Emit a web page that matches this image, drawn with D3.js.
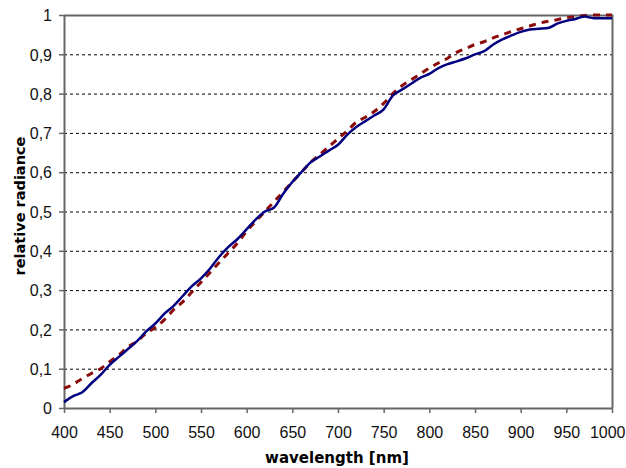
<!DOCTYPE html>
<html><head><meta charset="utf-8">
<script src="https://cdn.jsdelivr.net/npm/d3@7"></script>
<style>body{margin:0;background:#fff}svg{display:block}</style>
</head><body>
<svg id="c" width="626" height="468"></svg>
<script>
const wavelengths = [400,410,420,430,440,450,460,470,480,490,500,510,520,530,540,550,560,570,580,590,600,610,620,630,640,650,660,670,680,690,700,710,720,730,740,750,760,770,780,790,800,810,820,830,840,850,860,870,880,890,900,910,920,930,940,950,960,970,980,990,1000];
const measured = [0.015,0.03,0.04,0.063,0.084,0.11,0.13,0.15,0.17,0.195,0.215,0.24,0.26,0.285,0.31,0.33,0.355,0.385,0.41,0.43,0.455,0.48,0.5,0.51,0.545,0.575,0.6,0.625,0.64,0.655,0.67,0.695,0.715,0.73,0.745,0.76,0.795,0.81,0.825,0.84,0.85,0.865,0.875,0.882,0.89,0.9,0.908,0.925,0.938,0.948,0.957,0.963,0.965,0.967,0.978,0.985,0.99,0.996,0.992,0.992,0.992];
const reference = [0.05,0.06,0.075,0.088,0.1,0.118,0.135,0.155,0.17,0.19,0.205,0.225,0.25,0.27,0.295,0.32,0.345,0.37,0.395,0.42,0.45,0.475,0.5,0.525,0.55,0.575,0.6,0.625,0.645,0.665,0.685,0.705,0.727,0.74,0.755,0.775,0.8,0.82,0.835,0.85,0.865,0.878,0.89,0.905,0.915,0.925,0.932,0.942,0.95,0.958,0.965,0.972,0.979,0.984,0.988,0.993,0.996,0.999,1.0,1.0,1.0];
const xTicks = [400,450,500,550,600,650,700,750,800,850,900,950,1000];
const yTicks = [0,0.1,0.2,0.3,0.4,0.5,0.6,0.7,0.8,0.9,1];
const xTitle = "wavelength [nm]";
const yTitle = "relative radiance";

const svg = d3.select("#c");
const L=64,R=612,T=15,B=408;
const x = d3.scaleLinear().domain([400,1000]).range([L,R]);
const y = d3.scaleLinear().domain([0,1]).range([B,T]);
const font = "'Liberation Sans', Arial, sans-serif";
const bold = "'DejaVu Sans', sans-serif";

// gridlines
svg.append("g").selectAll("line").data(yTicks.filter(v=>v>0&&v<1)).join("line")
  .attr("x1",L).attr("x2",R).attr("y1",d=>y(d)+0.5).attr("y2",d=>y(d)+0.5)
  .attr("stroke","#000").attr("stroke-width",1).attr("stroke-dasharray","3,3");

// top & right border
svg.append("path").attr("d",`M${L},${T+0.5}H${R+0.5}V${B}`).attr("fill","none").attr("stroke","#666").attr("stroke-width",2);

// axes
const xa = svg.append("g").attr("transform",`translate(0,${B})`)
  .call(d3.axisBottom(x).tickValues(xTicks).tickSize(5).tickSizeOuter(0).tickFormat(d3.format("d")));
xa.selectAll(".tick text").attr("y",30).attr("dy",0);
xa.selectAll(".tick").filter(d=>d===1000).select("text").attr("text-anchor","end").attr("x",626-R-1);
const ya = svg.append("g").attr("transform",`translate(${L},0)`)
  .call(d3.axisLeft(y).tickValues(yTicks).tickSize(5).tickSizeOuter(0).tickPadding(7).tickFormat(d=>d===0?"0":d===1?"1":String(d3.format(".1f")(d)).replace(".",",")));
ya.selectAll(".tick text").attr("dy","0.36em");
[xa,ya].forEach(a=>{
  a.select(".domain").attr("stroke","#666").attr("stroke-width",2);
  a.selectAll(".tick line").attr("stroke","#666").attr("stroke-width",1.5);
  a.selectAll("text").attr("font-family",font).attr("font-size",16).attr("fill","#111");
});

const line = d3.line().x((d,i)=>x(wavelengths[i])).y(d=>y(d)).curve(d3.curveMonotoneX);

svg.append("path").datum(reference).attr("d",line).attr("fill","none")
  .attr("stroke","#8b0a0a").attr("stroke-width",3).attr("stroke-dasharray","7,6");
svg.append("path").datum(measured).attr("d",line).attr("fill","none")
  .attr("stroke","#000080").attr("stroke-width",2.5);

svg.append("text").attr("x",337).attr("y",463).attr("text-anchor","middle")
  .attr("font-family",bold).attr("font-weight","bold").attr("font-size",15).attr("fill","#000").text(xTitle);
svg.append("text").attr("transform",`translate(25,206) rotate(-90)`).attr("text-anchor","middle")
  .attr("font-family",bold).attr("font-weight","bold").attr("font-size",14.5).attr("fill","#000").text(yTitle);
</script>
</body></html>
